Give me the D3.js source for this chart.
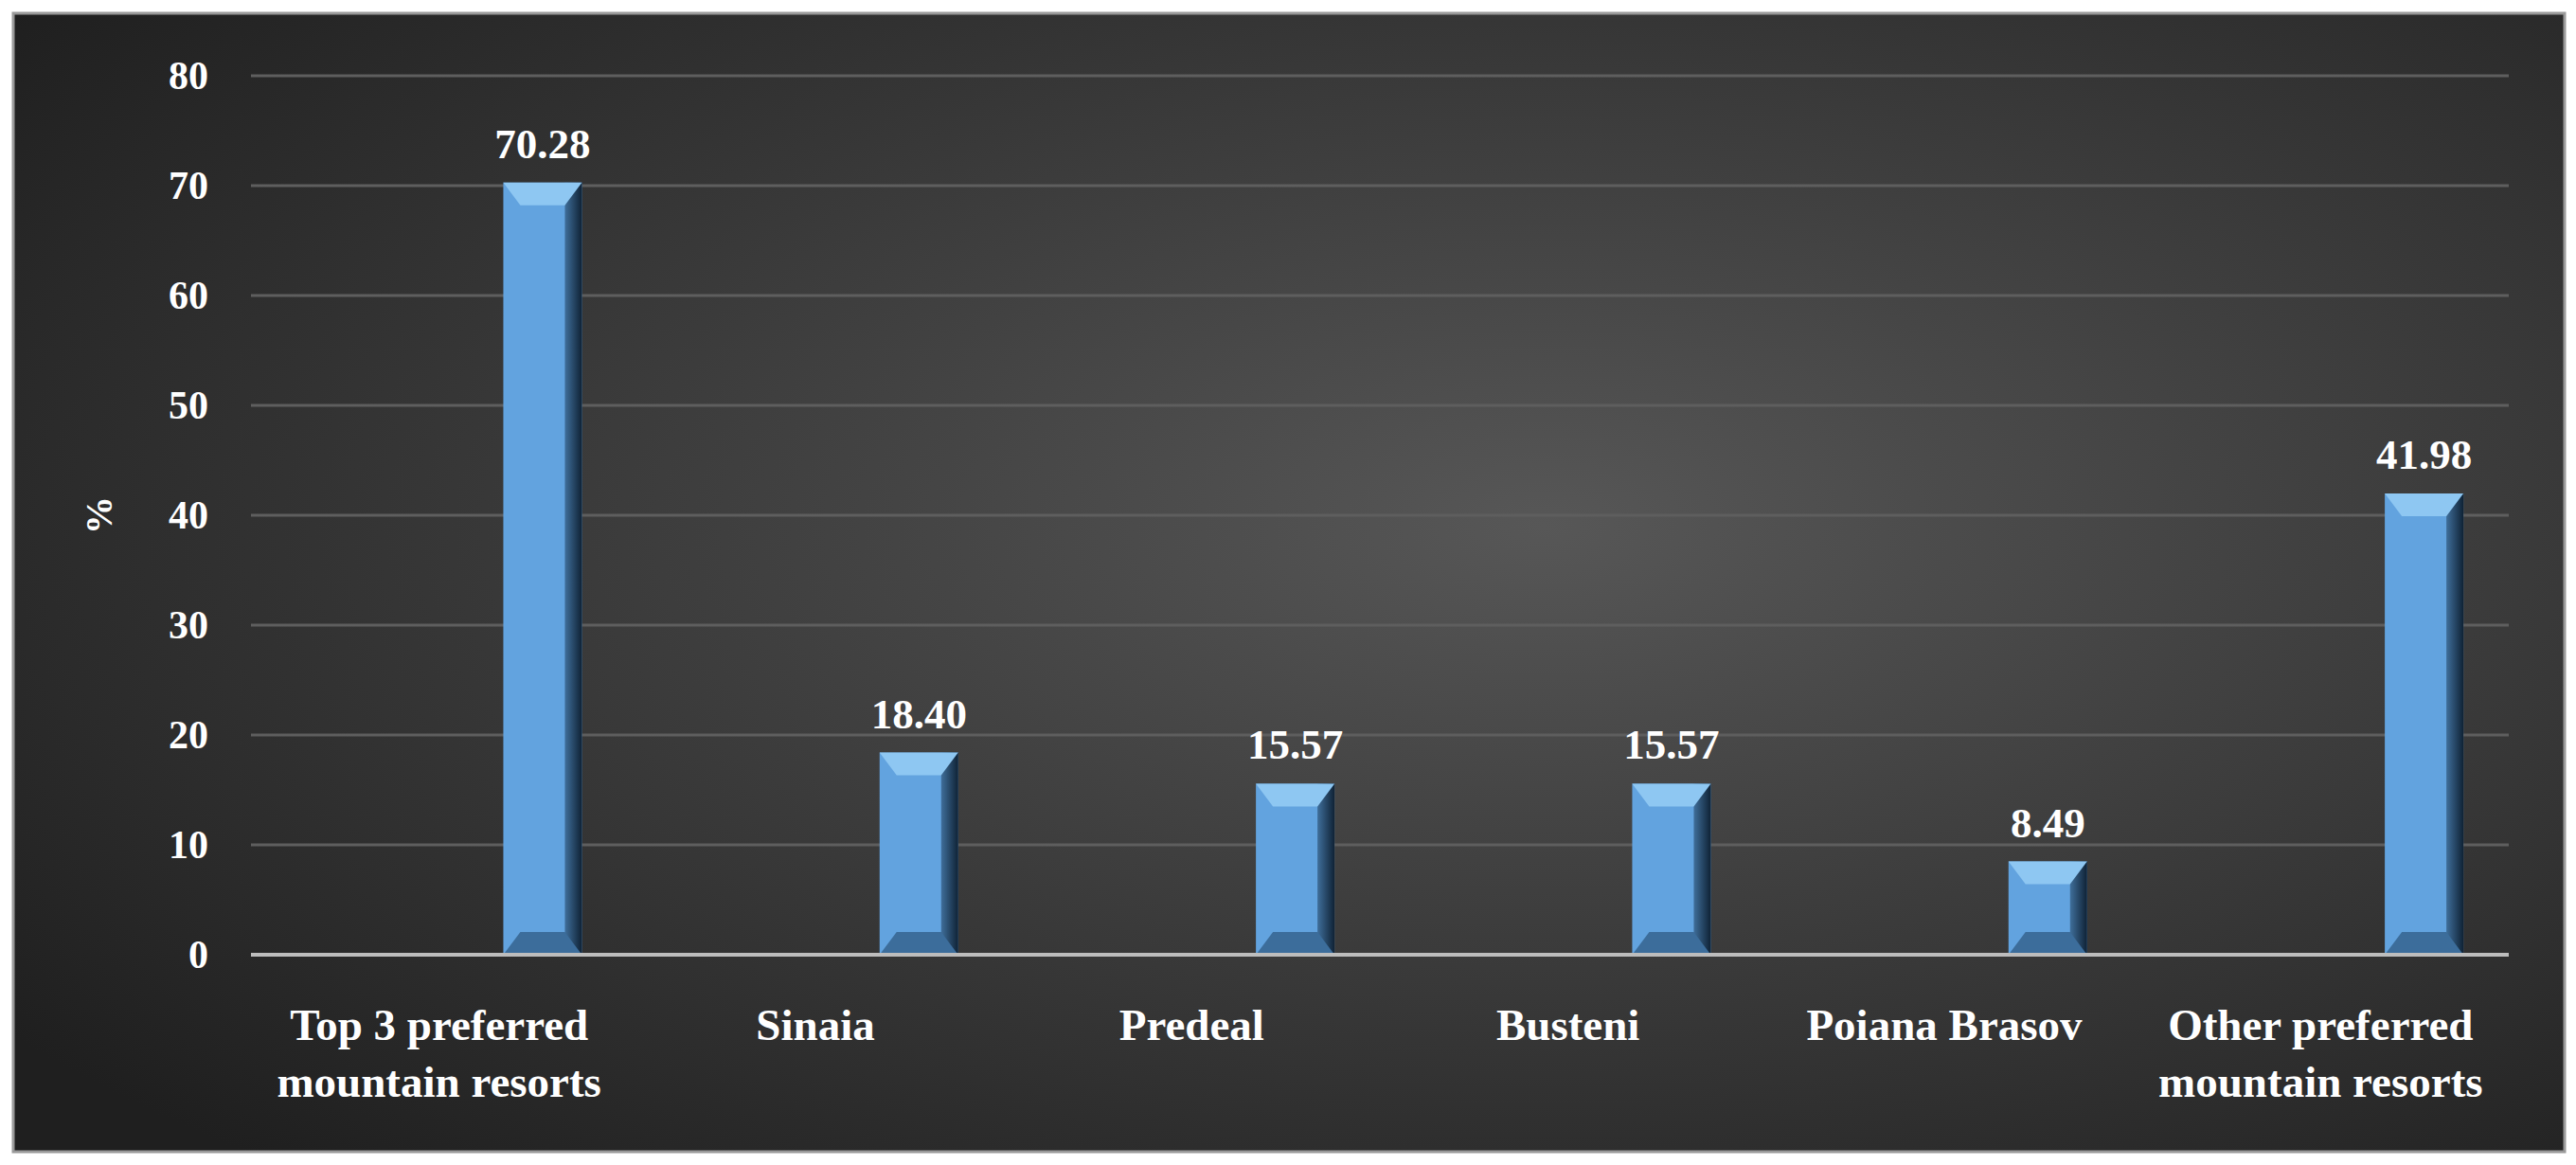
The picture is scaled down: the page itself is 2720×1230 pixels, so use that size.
<!DOCTYPE html><html><head><meta charset="utf-8"><script src="https://cdn.jsdelivr.net/npm/d3@7"></script>
<style>body{margin:0;background:#fff}</style></head><body><svg id="c" width="2720" height="1230"></svg>
<script>
const categories=[["Top 3 preferred","mountain resorts"],["Sinaia"],["Predeal"],["Busteni"],["Poiana Brasov"],["Other preferred","mountain resorts"]];
const values=[70.28,18.40,15.57,15.57,8.49,41.98];
const labels=["70.28","18.40","15.57","15.57","8.49","41.98"];
const yTicks=[0,10,20,30,40,50,60,70,80];
const svg=d3.select("#c");
const defs=svg.append("defs");
const rg=defs.append("radialGradient").attr("id","bg").attr("cx","60%").attr("cy","45%").attr("r","75%");
rg.append("stop").attr("offset","0").attr("stop-color","#575757");
rg.append("stop").attr("offset","1").attr("stop-color","#1f1f1f");
const sg=defs.append("linearGradient").attr("id","side").attr("x1","0").attr("x2","1");
sg.append("stop").attr("offset","0").attr("stop-color","#3f6e9a");
sg.append("stop").attr("offset","1").attr("stop-color","#0f2235");
svg.append("rect").attr("x",14).attr("y",14).attr("width",2694).attr("height",1202).attr("fill","url(#bg)").attr("stroke","#9a9a9a").attr("stroke-width",3);
const x0=265,x1=2649;
const y=d3.scaleLinear().domain([0,80]).range([1008,80]);
const x=d3.scaleBand().domain(d3.range(6)).range([x0,x1]);
const font="'Liberation Serif','DejaVu Serif',serif";
svg.append("g").selectAll("line").data(yTicks.slice(1)).join("line").attr("x1",x0).attr("x2",x1).attr("y1",d=>y(d)).attr("y2",d=>y(d)).attr("stroke","#5e5e5e").attr("stroke-width",3);
svg.append("g").selectAll("text").data(yTicks).join("text").attr("x",220).attr("y",d=>y(d)+14).attr("text-anchor","end").attr("fill","#fff").attr("font-family",font).attr("font-weight","bold").attr("font-size",42).text(d=>d);
svg.append("text").attr("transform","translate(118,"+y(40)+") rotate(-90)").attr("text-anchor","middle").attr("fill","#fff").attr("font-family",font).attr("font-weight","bold").attr("font-size",40).text("%");
const bw=83,bv=18;
const g=svg.append("g").selectAll("g").data(values).join("g").attr("transform",(d,i)=>`translate(${x(i)+x.bandwidth()*0.775-bw/2},0)`);
g.append("rect").attr("x",0).attr("y",d=>y(d)).attr("width",bw).attr("height",d=>y(0)-y(d)).attr("fill","#62a3df");
g.append("rect").attr("x",bw-bv).attr("y",d=>y(d)).attr("width",bv).attr("height",d=>y(0)-y(d)).attr("fill","url(#side)");
g.append("path").attr("d",d=>`M0,${y(d)}L${bw},${y(d)}L${bw-bv},${y(d)+bv+6}L${bv},${y(d)+bv+6}Z`).attr("fill","#8ec7f2");
g.append("path").attr("d",d=>`M0,${y(0)}L${bw},${y(0)}L${bw-bv},${y(0)-bv-6}L${bv},${y(0)-bv-6}Z`).attr("fill","#3c6d9b");
g.append("text").attr("x",bw/2).attr("y",d=>y(d)-26).attr("text-anchor","middle").attr("fill","#fff").attr("font-family",font).attr("font-weight","bold").attr("font-size",45).text((d,i)=>labels[i]);
svg.append("line").attr("x1",x0).attr("x2",x1).attr("y1",y(0)).attr("y2",y(0)).attr("stroke","#bdbdbd").attr("stroke-width",4);
const cl=svg.append("g").selectAll("text").data(categories).join("text").attr("x",(d,i)=>x(i)+x.bandwidth()/2).attr("y",1098).attr("text-anchor","middle").attr("fill","#fff").attr("font-family",font).attr("font-weight","bold").attr("font-size",47);
cl.selectAll("tspan").data(d=>d).join("tspan").attr("x",function(){return this.parentNode.getAttribute("x")}).attr("dy",(d,i)=>i?60:0).text(d=>d);
</script></body></html>
